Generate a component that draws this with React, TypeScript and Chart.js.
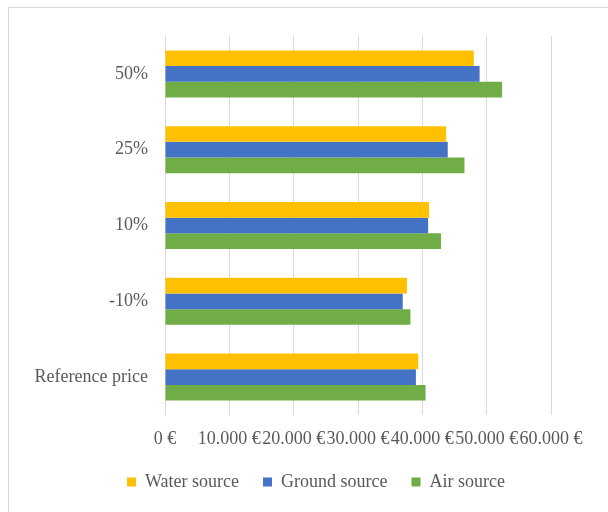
import React, { useEffect, useRef } from "react";
import { Chart, registerables } from "chart.js";

Chart.register(...registerables);

const categories = ["50%", "25%", "10%", "-10%", "Reference price"];
const waterSource = [48000, 43700, 41050, 37600, 39350];
const groundSource = [48900, 43950, 40900, 36950, 39000];
const airSource = [52400, 46550, 42900, 38150, 40500];
const xTicks = [0, 10000, 20000, 30000, 40000, 50000, 60000];

const seriesNames = ["Water source", "Ground source", "Air source"];
const seriesColors = ["#FFC000", "#4472C4", "#70AD47"];

const FONT = "'Liberation Serif', 'Times New Roman', serif";
const TEXT = "#595959";

function fmtEuro(v: number): string {
  const s = String(Math.round(v)).replace(/\B(?=(\d{3})+(?!\d))/g, ".");
  return s + " €";
}

const legendShift = {
  id: "legendShift",
  afterLayout(chart: any) {
    const l = chart.legend;
    if (l) {
      l.left = 81;
      l.width = l.right - l.left;
    }
  },
};

export default function App() {
  const ref = useRef<HTMLCanvasElement | null>(null);

  useEffect(() => {
    if (!ref.current) return;
    const values = [waterSource, groundSource, airSource];
    const chart = new Chart(ref.current, {
      type: "bar",
      data: {
        labels: categories,
        datasets: values.map((d, i) => ({
          label: seriesNames[i],
          data: d,
          backgroundColor: seriesColors[i],
          borderWidth: 0,
          categoryPercentage: 0.62,
          barPercentage: 1.0,
        })),
      },
      plugins: [legendShift],
      options: {
        indexAxis: "y",
        animation: false,
        responsive: false,
        maintainAspectRatio: false,
        layout: { padding: { top: 36, right: 57, left: 0, bottom: 11 } },
        plugins: {
          tooltip: { enabled: false },
          legend: {
            position: "bottom",
            labels: {
              boxWidth: 9,
              boxHeight: 9,
              padding: 24,
              color: TEXT,
              font: { family: FONT, size: 18 },
            },
          },
        },
        scales: {
          x: {
            type: "linear",
            min: 0,
            max: 60000,
            afterBuildTicks: (scale: any) => {
              scale.ticks = xTicks.map((v) => ({ value: v }));
            },
            afterFit: (scale: any) => {
              scale.height = 34;
            },
            ticks: {
              autoSkip: false,
              maxRotation: 0,
              padding: 13,
              color: TEXT,
              font: { family: FONT, size: 18 },
              callback: (v: any) => fmtEuro(Number(v)),
            },
            grid: { color: "#d9d9d9", lineWidth: 1, drawTicks: false },
            border: { display: false },
          },
          y: {
            afterFit: (scale: any) => {
              scale.width = 165;
            },
            ticks: {
              padding: 17,
              color: TEXT,
              font: { family: FONT, size: 18 },
            },
            grid: { display: false, drawTicks: false },
            border: { display: false },
          },
        },
      },
    });
    return () => chart.destroy();
  }, []);

  return (
    <div
      style={{
        position: "fixed",
        left: 0,
        top: 0,
        width: 608,
        height: 512,
        overflow: "hidden",
        background: "#fff",
      }}
    >
      <div
        style={{
          position: "absolute",
          left: 8,
          top: 7,
          width: 640,
          height: 560,
          border: "1px solid #d9d9d9",
        }}
      />
      <canvas
        ref={ref}
        width={608}
        height={512}
        style={{ position: "absolute", left: 0, top: 0, width: 608, height: 512 }}
      />
    </div>
  );
}
